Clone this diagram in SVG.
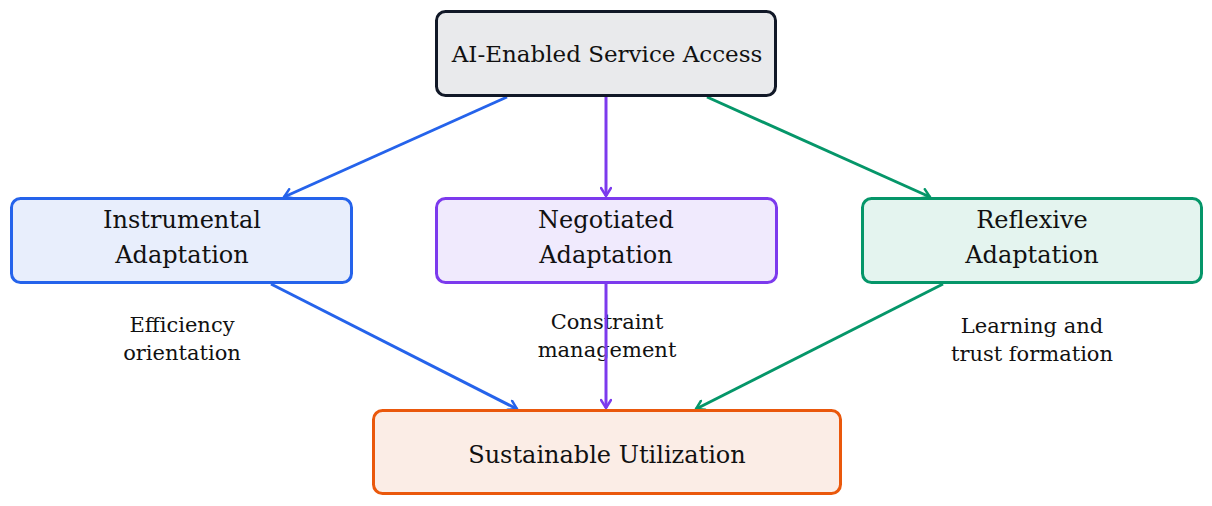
<svg xmlns="http://www.w3.org/2000/svg" width="1212" height="506" viewBox="0 0 1212 506">
<style>
text{font-family:"DejaVu Serif","Liberation Serif",serif;fill:#111;text-anchor:middle}
.n{font-size:24px}
.t{font-size:23px}
.l{font-size:21px}
.box{stroke-width:3}
.c{fill:none;stroke-width:3}
</style>
<defs>
<marker id="mb" viewBox="0 0 12 12" refX="10" refY="6" markerWidth="12" markerHeight="12" markerUnits="userSpaceOnUse" orient="auto"><path d="M2,1 L10,6 L2,11" fill="none" stroke="#2563eb" stroke-width="2.5" stroke-linecap="round"/></marker>
<marker id="mp" viewBox="0 0 12 12" refX="10" refY="6" markerWidth="12" markerHeight="12" markerUnits="userSpaceOnUse" orient="auto"><path d="M2,1 L10,6 L2,11" fill="none" stroke="#7c3aed" stroke-width="2.5" stroke-linecap="round"/></marker>
<marker id="mg" viewBox="0 0 12 12" refX="10" refY="6" markerWidth="12" markerHeight="12" markerUnits="userSpaceOnUse" orient="auto"><path d="M2,1 L10,6 L2,11" fill="none" stroke="#059669" stroke-width="2.5" stroke-linecap="round"/></marker>
</defs>
<g id="connectors">
<text class="l" x="182" y="332">Efficiency</text>
<text class="l" x="182" y="360">orientation</text>
<text class="l" x="607" y="329">Constraint</text>
<text class="l" x="607" y="357">management</text>
<text class="l" x="1032" y="333">Learning and</text>
<text class="l" x="1032" y="361">trust formation</text>
<line class="c" x1="507" y1="97" x2="284" y2="197" stroke="#2563eb" marker-end="url(#mb)"/>
<line class="c" x1="606" y1="97" x2="606" y2="196" stroke="#7c3aed" marker-end="url(#mp)"/>
<line class="c" x1="707" y1="97" x2="930" y2="197" stroke="#059669" marker-end="url(#mg)"/>
<line class="c" x1="271" y1="284" x2="517" y2="409" stroke="#2563eb" marker-end="url(#mb)"/>
<line class="c" x1="606" y1="284" x2="606" y2="408" stroke="#7c3aed" marker-end="url(#mp)"/>
<line class="c" x1="943" y1="284" x2="696" y2="409" stroke="#059669" marker-end="url(#mg)"/>
</g>
<g id="top">
<rect class="box" x="436.5" y="11.5" width="339" height="84" rx="9" fill="#e9eaec" stroke="#111827"/>
<text class="t" x="607" y="62">AI-Enabled Service Access</text>
</g>
<g id="instrumental">
<rect class="box" x="11.5" y="198.5" width="340" height="84" rx="9" fill="#e8eefc" stroke="#2563eb"/>
<text class="n" x="182" y="228">Instrumental</text>
<text class="n" x="182" y="263">Adaptation</text>
</g>
<g id="negotiated">
<rect class="box" x="436.5" y="198.5" width="340" height="84" rx="9" fill="#f0eafd" stroke="#7c3aed"/>
<text class="n" x="606" y="228">Negotiated</text>
<text class="n" x="606" y="263">Adaptation</text>
</g>
<g id="reflexive">
<rect class="box" x="862.5" y="198.5" width="339" height="84" rx="9" fill="#e4f4ef" stroke="#059669"/>
<text class="n" x="1032" y="228">Reflexive</text>
<text class="n" x="1032" y="263">Adaptation</text>
</g>
<g id="sustainable">
<rect class="box" x="373.5" y="410.5" width="467" height="83" rx="9" fill="#fbede6" stroke="#ea580c"/>
<text class="n" x="607" y="463">Sustainable Utilization</text>
</g>
</svg>
